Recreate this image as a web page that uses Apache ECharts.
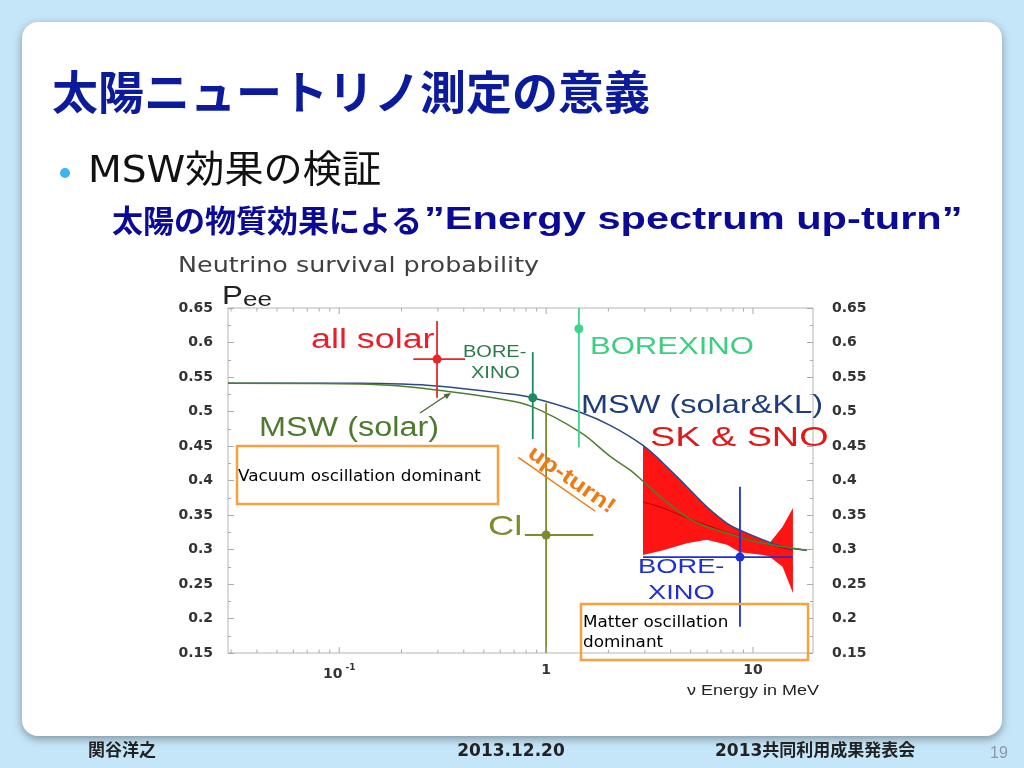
<!DOCTYPE html>
<html><head><meta charset="utf-8">
<script src="https://cdn.jsdelivr.net/npm/echarts@6/dist/echarts.min.js"></script>
<style>html,body{margin:0;padding:0;background:#c5e5f8}#c{width:1024px;height:768px}</style>
</head><body><div id="c"></div>
<script>
// ---- data (energy in MeV, survival probability Pee) ----
const mswKLE = [0.029,0.126,0.197,0.297,0.60,0.855,1.46,2.04,2.94,3.68,4.79,5.98,7.49,8.65,11.2,14.0,18.2];
const mswKLP = [0.541,0.541,0.540,0.537,0.527,0.520,0.499,0.480,0.451,0.425,0.391,0.362,0.338,0.328,0.314,0.304,0.299];
const mswSolarE = [0.029,0.126,0.197,0.297,0.60,0.855,1.46,2.04,2.55,2.94,3.68,4.79,5.98,7.49,8.65,11.2,14.0,18.2];
const mswSolarP = [0.541,0.540,0.537,0.531,0.518,0.507,0.470,0.435,0.415,0.399,0.373,0.347,0.333,0.324,0.318,0.309,0.304,0.299];
const skE    = [2.94,3.68,4.79,5.98,7.49,8.65,11.2,12.0,13.9,15.6];
const skLow  = [0.292,0.299,0.309,0.314,0.307,0.296,0.292,0.290,0.275,0.237];
const skHigh = [0.451,0.425,0.391,0.362,0.338,0.328,0.314,0.309,0.333,0.360];
const skMidE = [2.94,3.68,4.79,7.49,11.2,15.6];
const skMidP = [0.369,0.360,0.346,0.325,0.309,0.299];
const measNames = ['all solar','BOREXINO 7Be','BOREXINO pep','Cl','BOREXINO 8B'];
const measE     = [0.297,0.862,1.44,1.0,8.65];
const measP     = [0.576,0.520,0.620,0.321,0.289];
const measPLow  = [0.520,0.460,0.448,0.15,0.188];
const measPHigh = [0.631,0.586,0.65,0.512,0.391];
const measELow  = [0.228,null,null,0.79,2.94];
const measEHigh = [0.406,null,null,1.69,15.6];
const xMajorTicks = [0.1,1,10];
const xMinorTicks = [0.03,0.04,0.05,0.06,0.07,0.08,0.09,0.2,0.3,0.4,0.5,0.6,0.7,0.8,0.9,2,3,4,5,6,7,8,9];
const yMin = 0.15, yMax = 0.65, yStep = 0.05;

// ---- styles ----
const measColors = ['#e8262a','#1f8a5e','#3fd48c','#7d8a2d','#1a30d8'];
const CJK = "'Noto Sans CJK JP'";
const AR = "'Liberation Sans', Arial";

function txt(x, y, text, size, color, o) {
  o = o || {};
  return {type:'text', x:x, y:y, z:100, scaleX:o.sx||1, rotation:o.rot||0,
    style:{text:text, fontSize:size, fontFamily:o.ff||AR, fontWeight:o.fw||'normal',
      fill:color, align:o.align||'left', verticalAlign:'middle'}};
}

const chart = echarts.init(document.getElementById('c'));
const tickData = xMajorTicks.map(e=>[e, yMin, 1]).concat(xMinorTicks.map(e=>[e, yMin, 0]));

const option = {
  backgroundColor:'#c5e5f8',
  animation:false,
  grid:{left:228, right:211, top:308, bottom:115, show:true, borderColor:'#b4b4b4', borderWidth:1},
  xAxis:{type:'log', logBase:10, min:0.029, max:19.5,
    axisLine:{show:false}, axisTick:{show:false}, splitLine:{show:false},
    axisLabel:{margin:10, color:'#333', fontFamily:'DejaVu Sans', fontWeight:'bold', fontSize:14,
      formatter:function(v){
        const l = Math.round(Math.log10(v)*1000)/1000;
        if (l === -1) return '{n|10}{s| -1}';
        if (l === 0) return '1';
        if (l === 1) return '10';
        return '';
      },
      rich:{n:{fontSize:14, fontWeight:'bold', fontFamily:'DejaVu Sans', color:'#333'},
            s:{fontSize:9, fontWeight:'bold', fontFamily:'DejaVu Sans', color:'#333', padding:[0,0,14,0]}}
    }},
  yAxis:[0,1].map(k=>({type:'value', min:yMin, max:yMax, interval:yStep, position:k?'right':'left',
    axisLine:{show:false}, splitLine:{show:false},
    axisTick:{show:true, inside:true, length:6, lineStyle:{color:'#aaa'}},
    minorTick:{show:true, splitNumber:2, length:3, lineStyle:{color:'#aaa'}},
    axisLabel:{margin:k?19:15, color:'#333', fontFamily:'DejaVu Sans', fontWeight:'bold', fontSize:14}})),
  series:[
    {type:'custom', name:'SK & SNO', clip:true, z:2, data:[[skE[0], skLow[0]]],
     renderItem:function(params, api){
       const up = skE.map((e,i)=>api.coord([e, skHigh[i]]));
       const lo = skE.map((e,i)=>api.coord([e, skLow[i]])).reverse();
       const mid = skMidE.map((e,i)=>api.coord([e, skMidP[i]]));
       return {type:'group', children:[
         {type:'polygon', shape:{points:up.concat(lo)}, style:{fill:'#ff1414'}},
         {type:'polyline', shape:{points:mid, smooth:0.3}, style:{stroke:'#b80000', lineWidth:1, fill:null}}
       ]};
     }},
    {type:'line', name:'MSW (solar&KL)', z:3, symbol:'none', smooth:0.4,
     data:mswKLE.map((e,i)=>[e, mswKLP[i]]), lineStyle:{color:'#2b4b82', width:1.5}},
    {type:'line', name:'MSW (solar)', z:3, symbol:'none', smooth:0.4,
     data:mswSolarE.map((e,i)=>[e, mswSolarP[i]]), lineStyle:{color:'#4f7d2f', width:1.5}},
    {type:'custom', name:'measurements', clip:true, z:4,
     data:measE.map((e,i)=>[e, measP[i], i]),
     renderItem:function(params, api){
       const i = api.value(2);
       const c = measColors[i];
       const p = api.coord([measE[i], measP[i]]);
       const a = api.coord([measE[i], measPLow[i]]);
       const b = api.coord([measE[i], measPHigh[i]]);
       const ch = [{type:'line', shape:{x1:a[0], y1:a[1], x2:b[0], y2:b[1]}, style:{stroke:c, lineWidth:1.8}}];
       if (measELow[i] !== null) {
         const l = api.coord([measELow[i], measP[i]]);
         const r = api.coord([measEHigh[i], measP[i]]);
         ch.push({type:'line', shape:{x1:l[0], y1:l[1], x2:r[0], y2:r[1]}, style:{stroke:c, lineWidth:1.8}});
       }
       ch.push({type:'circle', shape:{cx:p[0], cy:p[1], r:4.5}, style:{fill:c}});
       return {type:'group', children:ch};
     }},
    {type:'custom', name:'xticks', z:5, silent:true, data:tickData,
     renderItem:function(params, api){
       const e = api.value(0), major = api.value(2);
       const pb = api.coord([e, yMin]), pt = api.coord([e, yMax]);
       const L = major ? 6 : 3.5;
       return {type:'group', children:[
         {type:'line', shape:{x1:pb[0], y1:pb[1], x2:pb[0], y2:pb[1]-L}, style:{stroke:'#aaa', lineWidth:1}},
         {type:'line', shape:{x1:pt[0], y1:pt[1], x2:pt[0], y2:pt[1]+L}, style:{stroke:'#aaa', lineWidth:1}}
       ]};
     }}
  ],
  graphic:[
    {type:'rect', z:-10, shape:{x:22, y:22, width:980, height:714, r:16},
     style:{fill:'#ffffff', shadowBlur:8, shadowOffsetY:3, shadowColor:'rgba(0,0,0,0.35)'}},
    txt(52, 92, '太陽ニュートリノ測定の意義', 46, '#0c1a9c', {ff:CJK, fw:'bold'}),
    {type:'circle', z:100, shape:{cx:65, cy:173, r:5}, style:{fill:'#3cb4f0'}},
    txt(88, 172, 'MSW効果の検証', 38, '#111', {ff:"'DejaVu Sans', "+CJK, sx:1.03}),
    txt(112, 220, '太陽の物質効果による', 31, '#0a0a96', {ff:CJK, fw:'bold'}),
    txt(424, 220, '”Energy spectrum up-turn”', 32, '#0a0a96', {fw:'bold', sx:1.3}),
    txt(178, 267, 'Neutrino survival probability', 21, '#404040', {ff:'DejaVu Sans', sx:1.21}),
    txt(222, 297, 'P', 26, '#222', {sx:1.2}),
    txt(243, 300, 'ee', 20, '#222', {sx:1.3}),
    txt(687, 691, 'ν Energy in MeV', 15, '#222', {sx:1.2}),
    txt(311, 340, 'all solar', 28, '#e8202a', {sx:1.28}),
    txt(463, 353, 'BORE-', 16, '#2a7a4a', {sx:1.25}),
    txt(471, 374, 'XINO', 16, '#2a7a4a', {sx:1.25}),
    txt(590, 348, 'BOREXINO', 23, '#3ccf80', {sx:1.35}),
    txt(581, 406, 'MSW (solar&KL)', 25, '#1f3d7a', {sx:1.3}),
    txt(650, 438, 'SK & SNO', 28, '#e01818', {sx:1.35}),
    txt(259, 429, 'MSW (solar)', 27, '#4d7a2e', {sx:1.2}),
    txt(488, 527, 'Cl', 28, '#7d8a2d', {sx:1.3}),
    txt(638, 567, 'BORE-', 21, '#2030d0', {sx:1.3}),
    txt(648, 593, 'XINO', 21, '#2030d0', {sx:1.3}),
    {type:'line', z:100, shape:{x1:420, y1:413, x2:447, y2:395}, style:{stroke:'#4a6a3a', lineWidth:1.3}},
    {type:'polygon', z:100, shape:{points:[[451,393],[446.8,399.3],[443.5,394.3]]}, style:{fill:'#4a6a3a'}},
    {type:'group', z:100, x:530, y:451, rotation:-0.61, children:[
      {type:'text', z:100, x:0, y:0, scaleX:1.2,
       style:{text:'up-turn!', fontSize:22, fontFamily:AR, fontWeight:'bold', fill:'#f07a10', align:'left', verticalAlign:'middle'}},
      {type:'line', z:100, shape:{x1:-6, y1:12, x2:88, y2:12}, style:{stroke:'#f07a10', lineWidth:1.5}}
    ]},
    {type:'rect', z:100, shape:{x:237, y:446, width:261, height:58}, style:{fill:'none', stroke:'#f5a142', lineWidth:2.5}},
    {type:'rect', z:100, shape:{x:581, y:604, width:227, height:56}, style:{fill:'none', stroke:'#f5a142', lineWidth:2.5}},
    txt(238, 477, 'Vacuum oscillation dominant', 16, '#000', {ff:'DejaVu Sans', sx:1.05}),
    txt(583, 623, 'Matter oscillation', 16, '#000', {ff:'DejaVu Sans', sx:1.05}),
    txt(583, 643, 'dominant', 16, '#000', {ff:'DejaVu Sans', sx:1.05}),
    txt(88, 752, '関谷洋之', 17, '#222', {ff:"'DejaVu Sans', "+CJK, fw:'bold'}),
    txt(511, 752, '2013.12.20', 17, '#222', {ff:"'DejaVu Sans', "+CJK, fw:'bold', align:'center'}),
    txt(715, 752, '2013共同利用成果発表会', 17, '#222', {ff:"'DejaVu Sans', "+CJK, fw:'bold'}),
    txt(990, 754, '19', 16, '#8a9aa8', {})
  ]
};
chart.setOption(option);
</script></body></html>
